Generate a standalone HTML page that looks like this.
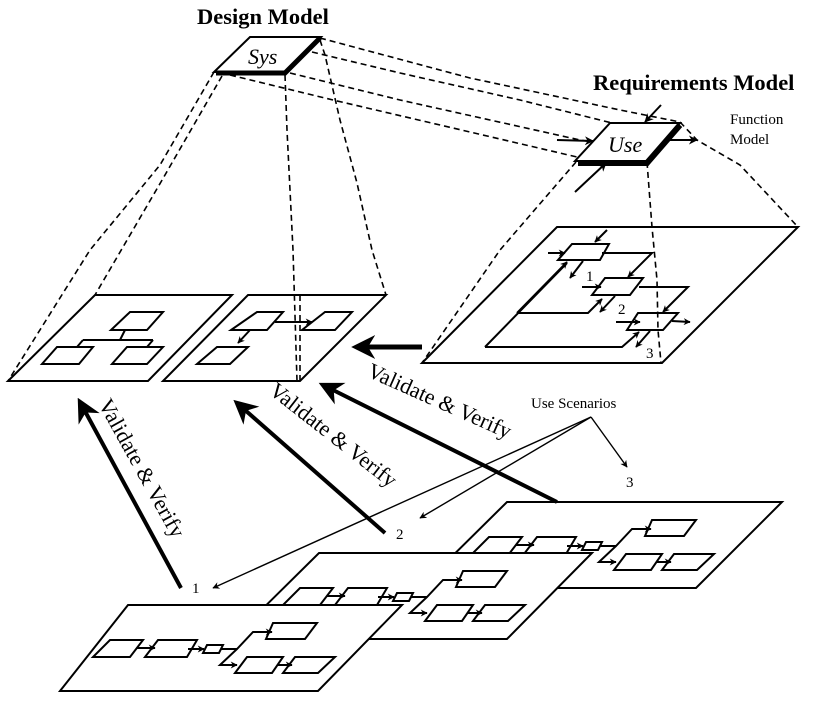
<!DOCTYPE html>
<html><head><meta charset="utf-8"><style>
html,body{margin:0;padding:0;background:#fff;}
svg{display:block;}
text{font-family:"Liberation Serif",serif;fill:#000;}
</style></head><body>
<svg width="814" height="704" viewBox="0 0 814 704" xmlns="http://www.w3.org/2000/svg">
<defs>
<marker id="a" viewBox="0 0 10 10" refX="9" refY="5" markerWidth="7" markerHeight="7" markerUnits="userSpaceOnUse" orient="auto"><path d="M0,0 L10,5 L0,10 L3,5 z" fill="#000"/></marker>
<marker id="b" viewBox="0 0 10 10" refX="9" refY="5" markerWidth="9" markerHeight="9" markerUnits="userSpaceOnUse" orient="auto"><path d="M0,0 L10,5 L0,10 L3,5 z" fill="#000"/></marker>
<marker id="big" viewBox="0 0 10 10" refX="8" refY="5" markerWidth="24" markerHeight="24" markerUnits="userSpaceOnUse" orient="auto"><path d="M0,0 L10,5 L0,10 L3,5 z" fill="#000"/></marker>
<g id="pc" fill="#fff" stroke="#000" stroke-width="2">
<polygon points="-18,35 15,35 2,52 -35,52"/>
<polygon points="30,35 69,35 59,52 17,52"/>
<polygon points="79,40 95,40 91,48 75,48"/>
<polygon points="145,18 189,18 177,34 138,34"/>
<polygon points="119,52 155,52 144,68 107,68"/>
<polygon points="167,52 207,52 190,68 155,68"/>
<g fill="none">
<line x1="9" y1="43" x2="27" y2="43" marker-end="url(#a)"/>
<line x1="60" y1="44" x2="76" y2="44" marker-end="url(#a)"/>
<polyline points="93,44 109,44 125,27 144,27" marker-end="url(#a)"/>
<polyline points="109,44 92,60 109,60" marker-end="url(#a)"/>
<line x1="149" y1="60" x2="164" y2="60" marker-end="url(#a)"/>
</g>
</g>
</defs>

<!-- titles -->
<text x="197" y="24" font-size="22.5" font-weight="bold">Design Model</text>
<text x="593" y="90" font-size="22.5" font-weight="bold">Requirements Model</text>
<text x="730" y="124" font-size="15">Function</text>
<text x="730" y="144" font-size="15">Model</text>

<!-- dashed -->
<g fill="none" stroke="#000" stroke-width="1.6" stroke-dasharray="6,4">
<polyline points="214,72 160,165 90,250 8,381"/>
<polyline points="222,76 165,175 95,295"/>
<polyline points="285,75 287,130 293,250 297,381"/>
<polyline points="320,40 325,55 340,120 357,183 372,250 386,295"/>
<polyline points="320,38 470,78 620,110 680,122"/>
<polyline points="312,52 400,73 520,100 612,123"/>
<polyline points="290,73 400,100 580,140 610,145"/>
<polyline points="230,75 333,100 577,157"/>
<polyline points="576,162 500,250 422,363"/>
<polyline points="680,122 697,140 740,165 798,227"/>
<polyline points="647,162 652,227 657,280 658,330 661,363"/>
</g>

<!-- Sys -->
<polygon points="250,37 321,37 285,72 214,72" fill="#fff" stroke="#000" stroke-width="2"/>
<polyline points="216,73 285,73 320,38" fill="none" stroke="#000" stroke-width="5"/>
<text x="248" y="64" font-size="22" font-style="italic">Sys</text>

<!-- Use -->
<polygon points="610,123 680,123 647,161 575,161" fill="#fff" stroke="#000" stroke-width="2"/>
<polyline points="578,163 647,163 680,125" fill="none" stroke="#000" stroke-width="6"/>
<text x="608" y="152" font-size="22" font-style="italic">Use</text>
<g stroke="#000" stroke-width="2" fill="none">
<line x1="557" y1="140" x2="593" y2="141" marker-end="url(#b)"/>
<line x1="661" y1="105" x2="645" y2="122" marker-end="url(#b)"/>
<line x1="670" y1="140" x2="697" y2="140" marker-end="url(#b)"/>
<line x1="575" y1="192" x2="606" y2="163" marker-end="url(#b)"/>
</g>

<!-- design planes -->
<g stroke="#000" stroke-width="2" fill="none">
<polygon points="95,295 232,295 148,381 8,381"/>
<polygon points="248,295 386,295 300,381 163,381"/>
<polygon points="130,312 163,312 147,330 111,330"/>
<polygon points="57,347 93,347 79,364 42,364"/>
<polygon points="127,347 163,347 147,364 112,364"/>
<line x1="125" y1="330" x2="120" y2="340"/>
<line x1="83" y1="340" x2="153" y2="340"/>
<line x1="83" y1="340" x2="77" y2="347"/>
<line x1="153" y1="340" x2="147" y2="347"/>
<polygon points="257,312 283,312 267,330 231,330"/>
<polygon points="325,312 352,312 335,330 302,330"/>
<polygon points="217,347 248,347 230,364 197,364"/>
<line x1="275" y1="322" x2="312" y2="322" marker-end="url(#a)"/>
<line x1="250" y1="330" x2="238" y2="343" marker-end="url(#a)"/>
</g>
<line x1="300" y1="295" x2="300" y2="381" stroke="#000" stroke-width="1.6" stroke-dasharray="6,4"/>

<!-- requirements plane -->
<g stroke="#000" stroke-width="2" fill="none">
<polygon points="557,227 798,227 662,363 422,363"/>
<polygon points="572,244 609,244 600,260 558,260"/>
<polygon points="605,278 643,278 630,295 592,295"/>
<polygon points="638,313 678,313 663,330 627,330"/>
<line x1="607" y1="230" x2="595" y2="242" marker-end="url(#a)"/>
<line x1="548" y1="253" x2="565" y2="253" marker-end="url(#a)"/>
<line x1="583" y1="261" x2="570" y2="278" marker-end="url(#a)"/>
<polyline points="602,253 652,253 628,277" marker-end="url(#a)"/>
<line x1="582" y1="287" x2="601" y2="287" marker-end="url(#a)"/>
<polyline points="639,287 688,287 663,312" marker-end="url(#a)"/>
<polyline points="517,313 588,313 602,299" marker-end="url(#a)"/>
<line x1="615" y1="296" x2="600" y2="312" marker-end="url(#a)"/>
<line x1="616" y1="322" x2="640" y2="322" marker-end="url(#a)"/>
<line x1="672" y1="321" x2="690" y2="322" marker-end="url(#a)"/>
<line x1="650" y1="331" x2="636" y2="347" marker-end="url(#a)"/>
<polyline points="485,347 622,347 639,332" marker-end="url(#a)"/>
<line x1="517" y1="313" x2="567" y2="262" marker-end="url(#a)"/>
<line x1="485" y1="347" x2="567" y2="263"/>
</g>
<text x="586" y="281" font-size="15">1</text>
<text x="618" y="314" font-size="15">2</text>
<text x="646" y="358" font-size="15">3</text>

<!-- big horizontal arrow -->
<line x1="422" y1="347" x2="356" y2="347" stroke="#000" stroke-width="5" marker-end="url(#big)"/>

<!-- bottom planes -->
<g>
<polygon points="507,502 782,502 696,588 420,588" fill="#fff" stroke="#000" stroke-width="2"/>
<use href="#pc" transform="translate(507,502)"/>
<polygon points="319,553 592,553 507,639 232,639" fill="#fff" stroke="#000" stroke-width="2"/>
<use href="#pc" transform="translate(318,553)"/>
<polygon points="128,605 402,605 318,691 60,691" fill="#fff" stroke="#000" stroke-width="2"/>
<use href="#pc" transform="translate(128,605)"/>
</g>

<!-- validate arrows -->
<g stroke="#000" stroke-width="4" fill="none">
<line x1="181" y1="588" x2="80" y2="402" marker-end="url(#big)"/>
<line x1="385" y1="533" x2="237" y2="403" marker-end="url(#big)"/>
<line x1="557" y1="502" x2="323" y2="385" marker-end="url(#big)"/>
</g>
<text font-size="22" transform="translate(98,404) rotate(61)">Validate &amp; Verify</text>
<text font-size="22" transform="translate(268,393) rotate(38)">Validate &amp; Verify</text>
<text font-size="22" transform="translate(366,376) rotate(24)">Validate &amp; Verify</text>

<!-- use scenarios -->
<text x="531" y="408" font-size="15">Use Scenarios</text>
<g stroke="#000" stroke-width="1.4" fill="none">
<line x1="591" y1="417" x2="627" y2="467" marker-end="url(#a)"/>
<line x1="591" y1="417" x2="420" y2="518" marker-end="url(#a)"/>
<line x1="591" y1="417" x2="213" y2="588" marker-end="url(#a)"/>
</g>
<text x="626" y="487" font-size="15">3</text>
<text x="396" y="539" font-size="15">2</text>
<text x="192" y="593" font-size="15">1</text>
</svg>
</body></html>
